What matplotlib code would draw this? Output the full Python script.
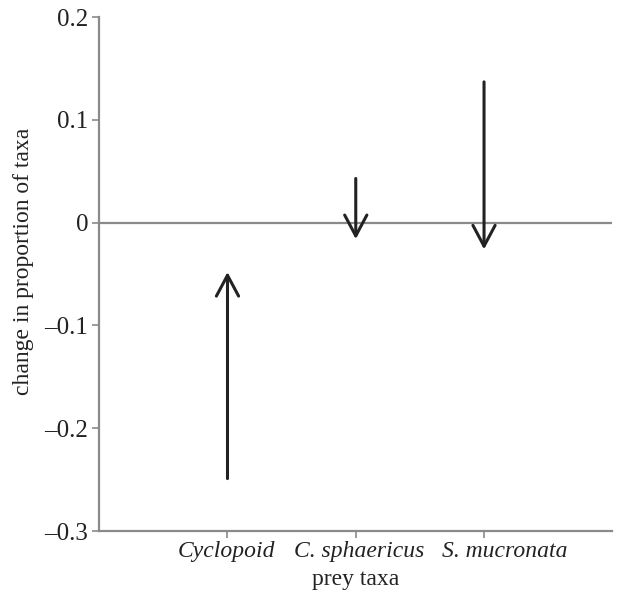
import matplotlib
matplotlib.use("Agg")
import matplotlib.pyplot as plt
from matplotlib.transforms import ScaledTranslation

categories = ["Cyclopoid", "C. sphaericus", "S. mucronata"]
start_vals = [-0.249, 0.043, 0.137]
end_vals = [-0.048, -0.016, -0.026]
yticks = [-0.3, -0.2, -0.1, 0.0, 0.1, 0.2]
ytick_labels = ["\u20130.3", "\u20130.2", "\u20130.1", "0", "0.1", "0.2"]

plt.rcParams['font.family'] = ['Liberation Serif', 'DejaVu Serif']

fig = plt.figure(figsize=(6.28, 5.91), dpi=100)
ax = fig.add_axes([0.158, 0.1015, 0.817, 0.8695])

xs = [i + 1 for i in range(len(categories))]
ax.axhline(0, color='#8a8a8a', lw=1.6, zorder=1)

for x, s, e in zip(xs, start_vals, end_vals):
    ax.annotate("", xy=(x, e), xytext=(x, s),
                arrowprops=dict(arrowstyle='->,head_length=0.75,head_width=0.4',
                                mutation_scale=20, lw=2.2, color='#222222',
                                shrinkA=0, shrinkB=0), zorder=3)

ax.set_xlim(0, 4)
ax.set_ylim(-0.3, 0.2)
ax.set_xticks(xs)
ax.set_xticklabels([])
ax.set_yticks(yticks)
ax.set_yticklabels(ytick_labels, fontsize=18)

# category labels: the original's sit slightly off their ticks
label_shift_px = [-1, 3, 21]
for x, name, dx in zip(xs, categories, label_shift_px):
    tr = ax.get_xaxis_transform() + ScaledTranslation(dx / 100, -0.095, fig.dpi_scale_trans)
    ax.text(x, 0, name, transform=tr, ha='center', va='top', fontsize=17,
            style='italic', color='#222222')

for side in ['top', 'right']:
    ax.spines[side].set_visible(False)
for side in ['left', 'bottom']:
    ax.spines[side].set_color('#8a8a8a')
    ax.spines[side].set_linewidth(1.6)
ax.tick_params(axis='both', colors='#8a8a8a', length=5, width=1.2, labelcolor='#222222', pad=3)

ax.set_xlabel("prey taxa", fontsize=17, color='#222222')
ax.xaxis.set_label_coords(0.5, -0.0735)
ax.set_ylabel("change in proportion of taxa", fontsize=17, color='#222222')
ax.yaxis.set_label_coords(-0.128, 0.525)

fig.savefig("out.png", dpi=100)
